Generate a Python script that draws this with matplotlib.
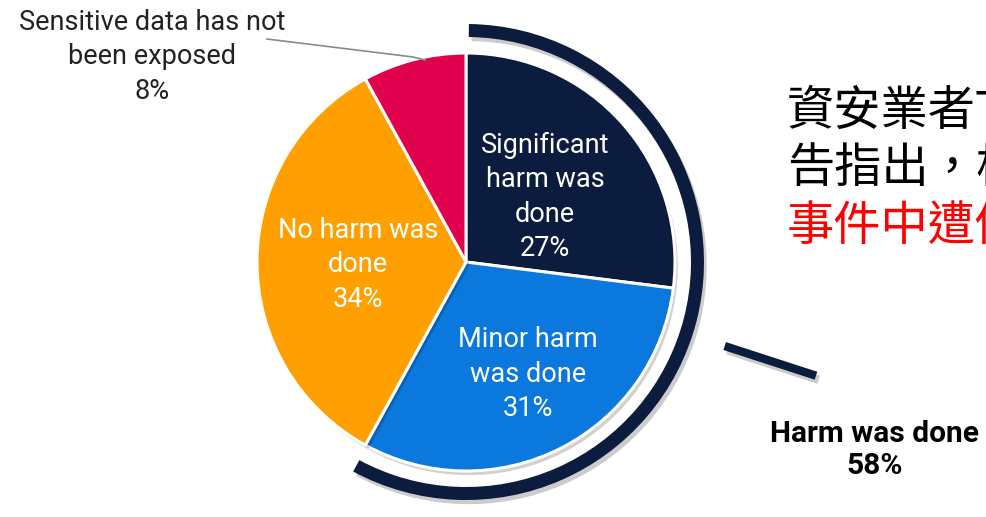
import matplotlib
matplotlib.use("Agg")
import matplotlib.pyplot as plt
from matplotlib.patches import Wedge
import matplotlib.patheffects as pe
import numpy as np

# ---- data ----
categories = ["Significant\nharm was\ndone", "Minor harm\nwas done", "No harm was\ndone", "Sensitive data has not\nbeen exposed"]
values = [27, 31, 34, 8]
colors = ["#0b1c3f", "#0a78dc", "#ffa000", "#e0004e"]
harm_label = "Harm was done"
harm_share = values[0] + values[1]
cn_lines = ["資安業者T", "告指出，根", "事件中遭個"]
cn_colors = ["black", "black", "#ff0000"]

W, H = 986, 517
fig = plt.figure(figsize=(W / 100, H / 100), dpi=100)
ax = fig.add_axes([0, 0, 1, 1])

def py(y):
    return H - y

cx, cy, R = 466, py(262), 209
shadow = [pe.SimplePatchShadow(offset=(2, -3), shadow_rgbFace="#000000", alpha=0.18), pe.Normal()]

wedges, _ = ax.pie(values, colors=colors, startangle=90, counterclock=False,
                   center=(cx, cy), radius=R,
                   wedgeprops=dict(edgecolor="white", linewidth=2.2))
for w in wedges:
    w.set_path_effects(shadow)
ax.set_xlim(0, W)
ax.set_ylim(0, H)
ax.set_aspect("equal")
ax.axis("off")

# outer arc around harm slices
frac = harm_share / sum(values)
arc = Wedge((cx, cy), 238, 90 - frac * 360 + 0.5, 89.3, width=13, facecolor="#0b1c3f",
            edgecolor="none")
arc.set_path_effects([pe.SimplePatchShadow(offset=(2, -3), shadow_rgbFace="#000000", alpha=0.2), pe.Normal()])
ax.add_patch(arc)

# tick line
ang = np.deg2rad(-18)
r1, r2 = 272, 368
ax.plot([cx + r1 * np.cos(ang), cx + r2 * np.cos(ang)],
        [cy + r1 * np.sin(ang), cy + r2 * np.sin(ang)],
        color="#0b1c3f", lw=6, solid_capstyle="butt",
        path_effects=[pe.SimpleLineShadow(offset=(2, -3), alpha=0.2), pe.Normal()])

font = "Roboto"
fs = 19.5
ls = 1.36
# slice labels
label_pos = [(545, 197), (528, 374), (358, 265)]
for (x, y), lab, v in zip(label_pos, categories[:3], values[:3]):
    ax.text(x, py(y), f"{lab}\n{v}%", ha="center", va="center", color="white",
            fontsize=fs, family=font, linespacing=ls)

# sensitive label outside
ax.text(152, py(57), f"{categories[3]}\n{values[3]}%", ha="center", va="center",
        color="#222222", fontsize=fs, family=font, linespacing=ls)
ax.plot([267, 413, 425], [py(39), py(57), py(60)], color="#8a8a8a", lw=1.2)

# harm label
ax.text(875, py(450), f"{harm_label}\n{harm_share}%", ha="center", va="center",
        color="black", fontsize=21.5, family=font, fontweight="bold", linespacing=1.22)

# Chinese text (clipped at right edge, as in the reference)
cn_y = [112, 169, 227]
for t, c, y in zip(cn_lines, cn_colors, cn_y):
    ax.text(787, py(y), t, ha="left", va="center", color=c, fontsize=34,
            family=["Noto Sans CJK TC", "DejaVu Sans"])

fig.savefig("out.png", dpi=100)
